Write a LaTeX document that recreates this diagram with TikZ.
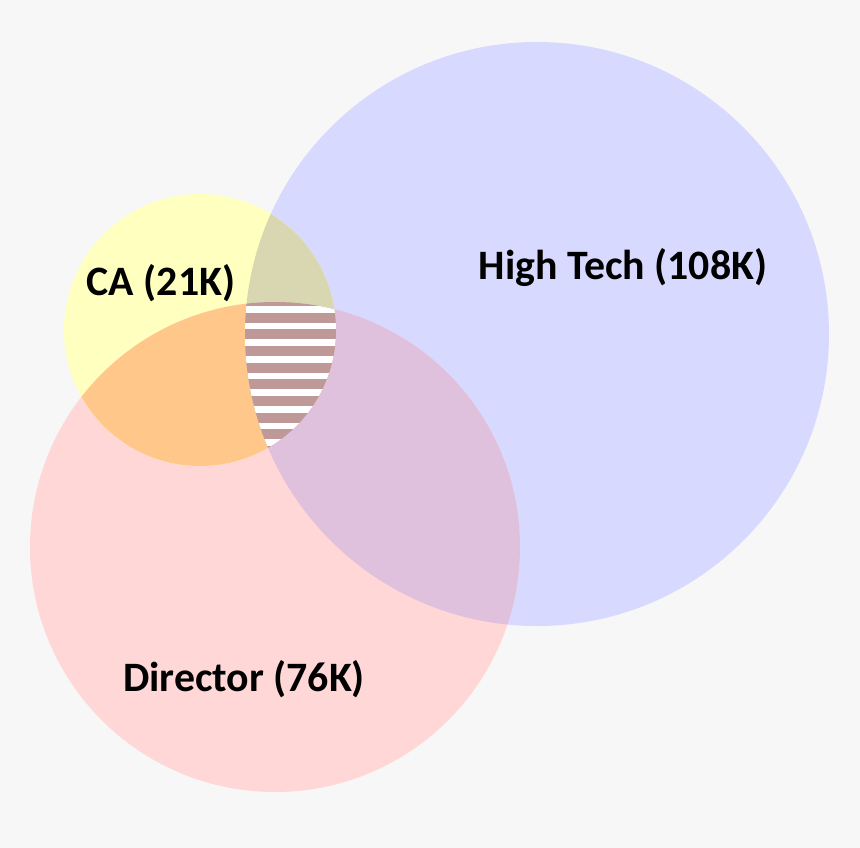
\documentclass[tikz,border=0pt]{standalone}
\usepackage{fontspec}
\setmainfont{Carlito}
\usepackage{tikz}
\definecolor{vennbg}{HTML}{F7F7F7}
\definecolor{vennyellow}{HTML}{FFFFC0}
\definecolor{vennblue}{HTML}{D7D9FF}
\definecolor{vennpink}{HTML}{FFD7D7}
\definecolor{vennorange}{HTML}{FFC78A}
\definecolor{vennolive}{HTML}{D9D7B1}
\definecolor{vennmauve}{HTML}{DFC0DD}
\definecolor{vennbrown}{HTML}{BF9898}

\tikzset{
  setlabel/.style={font=\bfseries\fontsize{11.9}{14}\selectfont,anchor=base,inner sep=0pt}
}

\begin{document}
\begin{tikzpicture}[x=0.01cm,y=-0.01cm]
    \fill[vennbg] (0,0) rectangle (860,848);
    \useasboundingbox (0,0) rectangle (860,848);
    % the three sets
    \def\ca{(200,330) circle (136)}
    \def\tech{(537,334) circle (292)}
    \def\dir{(275,547) circle (245)}
    \fill[vennblue] \tech;
    \fill[vennpink] \dir;
    \fill[vennyellow] \ca;
    % pairwise overlaps
    \begin{scope}
      \clip \dir;
      \fill[vennmauve] \tech;
    \end{scope}
    \begin{scope}
      \clip \ca;
      \fill[vennorange] \dir;
      \fill[vennolive] \tech;
    \end{scope}
    % all three, striped
    \begin{scope}
      \clip \ca;
      \clip \tech;
      \clip \dir;
      \fill[vennbrown] (200,290) rectangle (350,470);
      \foreach \k in {0,...,9}
        \fill[white] (200,306+16.67*\k) rectangle (350,312.7+16.67*\k);
    \end{scope}
    \node[setlabel] (calabel) at (161,295) {CA (21K)};
    \node[setlabel] (techlabel) at (623,279) {High Tech (108K)};
    \node[setlabel] (dirlabel) at (244,691) {Director (76K)};
  \end{tikzpicture}
\end{document}
